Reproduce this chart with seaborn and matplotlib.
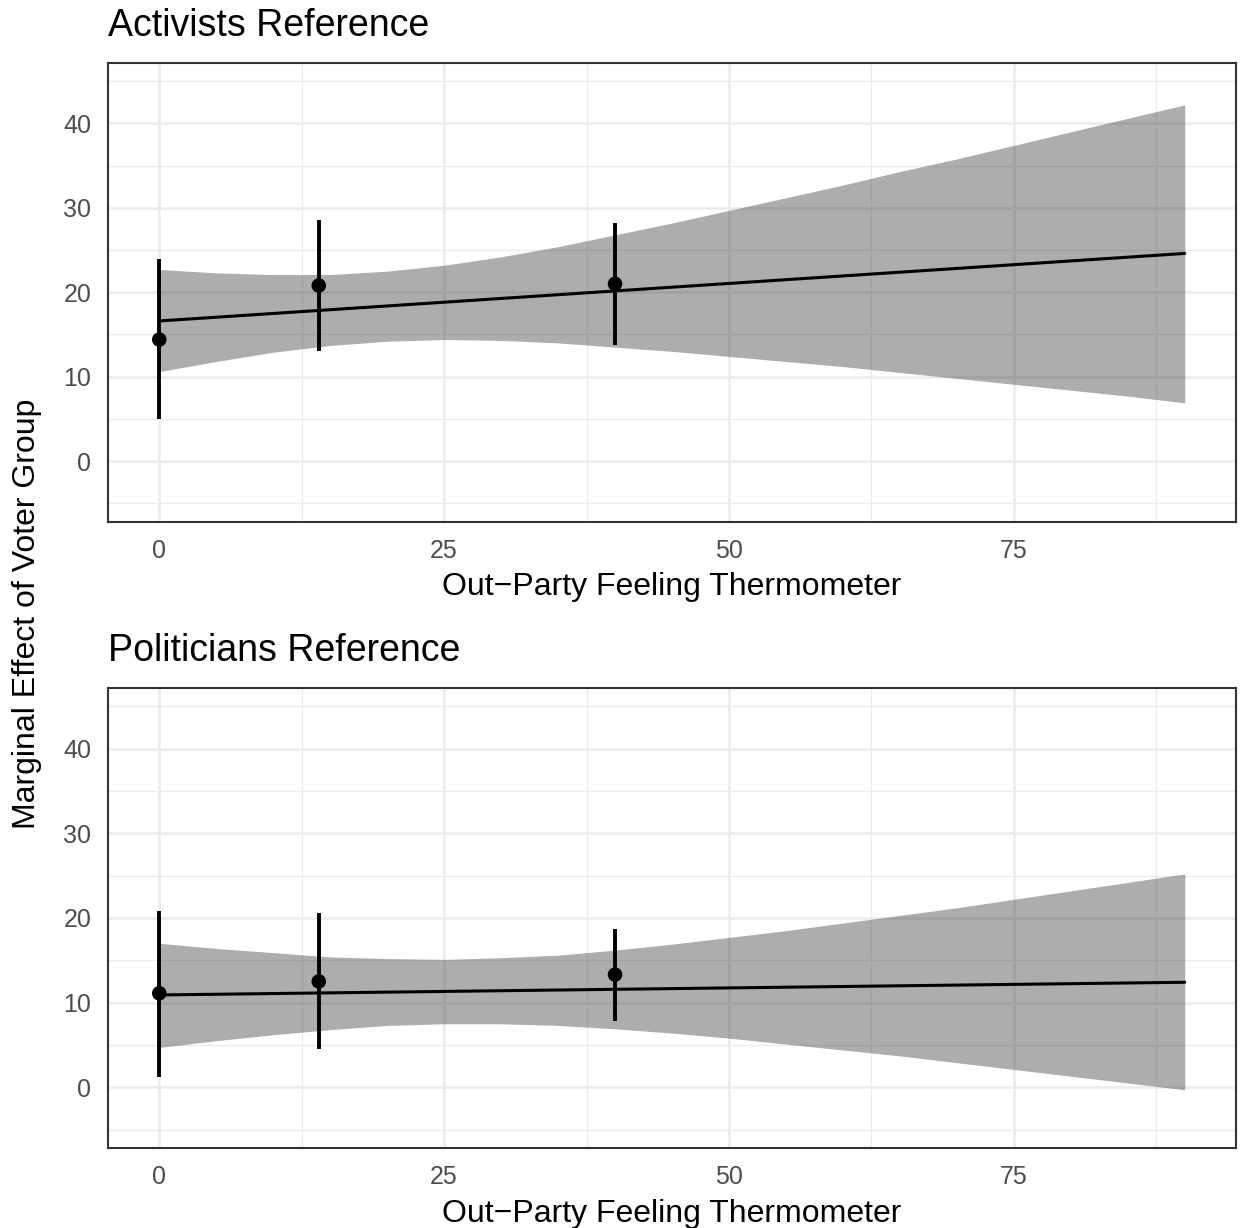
import numpy as np
import pandas as pd
import matplotlib
matplotlib.use("Agg")
import matplotlib.pyplot as plt
import seaborn as sns

sns.set_style("white")
plt.rcParams["font.family"] = ["Liberation Sans", "DejaVu Sans"]
plt.rcParams["text.color"] = "black"
plt.rcParams["axes.labelcolor"] = "black"

# observed estimates at the three thermometer values
point_x = [0, 14, 40]
act_est = [14.4, 20.8, 21.0]
act_lo = [5.0, 13.1, 13.8]
act_hi = [23.9, 28.6, 28.2]
pol_est = [11.1, 12.5, 13.3]
pol_lo = [1.2, 4.5, 7.8]
pol_hi = [20.8, 20.6, 18.7]

# fitted marginal effect line (end points)
line_x = [0, 90]
act_line = [16.6, 24.6]
pol_line = [10.9, 12.4]

# confidence band
band_x = [0, 5, 10, 15, 20, 25, 30, 35, 40, 45, 50, 55, 60, 65, 70, 75, 80, 85, 90]
act_upper = [22.7, 22.3, 22.1, 22.1, 22.5, 23.2, 24.2, 25.4, 26.8, 28.2, 29.7, 31.2,
             32.7, 34.3, 35.8, 37.4, 39.0, 40.6, 42.2]
act_lower = [10.6, 11.8, 12.9, 13.7, 14.2, 14.4, 14.3, 14.0, 13.5, 13.0, 12.4, 11.8,
             11.2, 10.5, 9.8, 9.1, 8.4, 7.7, 6.9]
pol_upper = [17.0, 16.4, 15.9, 15.4, 15.2, 15.1, 15.3, 15.6, 16.2, 16.9, 17.7, 18.5,
             19.4, 20.3, 21.2, 22.2, 23.2, 24.2, 25.2]
pol_lower = [4.7, 5.5, 6.2, 6.8, 7.3, 7.5, 7.5, 7.3, 6.9, 6.4, 5.8, 5.1,
             4.4, 3.7, 2.9, 2.1, 1.3, 0.5, -0.3]

panels = [
    ("Activists Reference", act_est, act_lo, act_hi, act_line, act_upper, act_lower),
    ("Politicians Reference", pol_est, pol_lo, pol_hi, pol_line, pol_upper, pol_lower),
]

fig = plt.figure(figsize=(12.41, 12.28), dpi=100)
ax_top = fig.add_axes([0.087, 0.575, 0.909, 0.374])
ax_bot = fig.add_axes([0.087, 0.065, 0.909, 0.375])

for ax, (title, est, lo, hi, line, upper, lower) in zip([ax_top, ax_bot], panels):
    pts = pd.DataFrame({"x": point_x, "y": est})
    fit = pd.DataFrame({"x": line_x, "y": line})

    ax.fill_between(band_x, lower, upper, color="#333333", alpha=0.4, lw=0, zorder=2)
    sns.lineplot(data=fit, x="x", y="y", color="black", lw=2.2, ax=ax, zorder=3)
    ax.vlines(point_x, lo, hi, color="black", lw=2.8, zorder=4)
    sns.scatterplot(data=pts, x="x", y="y", color="black", s=110, edgecolor="none",
                    ax=ax, zorder=5)

    ax.set_xlim(-4.5, 94.5)
    ax.set_ylim(-7.2, 47.2)
    ax.set_xticks([0, 25, 50, 75])
    ax.set_xticks([12.5, 37.5, 62.5, 87.5], minor=True)
    ax.set_yticks([0, 10, 20, 30, 40])
    ax.set_yticks([-5, 5, 15, 25, 35, 45], minor=True)
    ax.grid(which="major", color="#EBEBEB", lw=1.8, zorder=0)
    ax.grid(which="minor", color="#EBEBEB", lw=0.9, zorder=0)
    ax.set_axisbelow(True)

    for s in ax.spines.values():
        s.set_color("#333333")
        s.set_linewidth(1.5)
    ax.tick_params(which="major", length=6, width=1.5, color="#333333",
                   labelsize=18, labelcolor="#4D4D4D", pad=6)
    ax.tick_params(which="minor", length=0)

    ax.set_title(title, loc="left", fontsize=27, pad=19, color="black")
    ax.set_xlabel("Out\u2212Party Feeling Thermometer", fontsize=23, labelpad=7)
    ax.set_ylabel("")

fig.text(0.022, 0.5, "Marginal Effect of Voter Group", rotation=90,
         ha="center", va="center", fontsize=23)

plt.savefig("out.png", dpi=100)
